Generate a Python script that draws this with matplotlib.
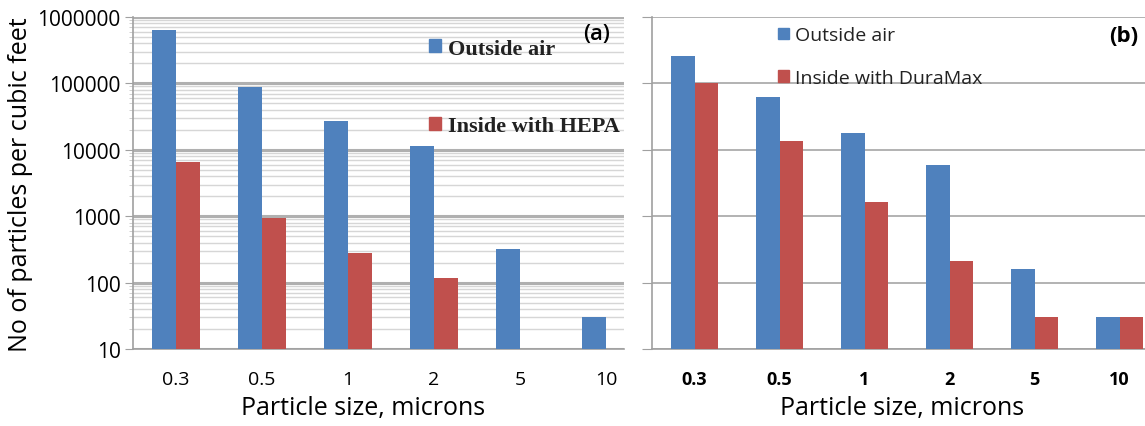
import matplotlib
matplotlib.use('Agg')
import matplotlib.pyplot as plt
import matplotlib.patches as patches
import numpy as np

# data
sizes = ['0.3', '0.5', '1', '2', '5', '10']
outside_a = [630000, 87000, 27000, 11500, 320, 30]
hepa_a = [6600, 950, 280, 118, np.nan, np.nan]
outside_b = [257000, 62000, 18000, 6000, 160, 30]
duramax_b = [100000, 13500, 1660, 215, 30, 30]

BLUE = '#4f81bd'
RED = '#c0504d'
W = 0.28

plt.rcParams['font.family'] = ['Open Sans', 'DejaVu Sans']

fig = plt.figure(figsize=(11.45, 4.27), dpi=100)
ax_a = fig.add_axes([133/1145, 77/427, 491/1145, 332/427])
ax_b = fig.add_axes([652/1145, 77/427, 493/1145, 332/427])

x = np.arange(len(sizes))


def bars(ax, s1, s2):
    s1 = np.asarray(s1, dtype=float)
    s2 = np.asarray(s2, dtype=float)
    m1 = ~np.isnan(s1)
    m2 = ~np.isnan(s2)
    ax.bar(x[m1] - W/2, s1[m1], width=W, bottom=0, color=BLUE, zorder=3)
    ax.bar(x[m2] + W/2, s2[m2], width=W, bottom=0, color=RED, zorder=3)
    ax.set_yscale('log')
    ax.set_ylim(10, 1e6)
    ax.set_xticks(x)
    ax.set_xticklabels(sizes)
    ax.tick_params(axis='x', length=0, pad=15)
    for side in ['top', 'right']:
        ax.spines[side].set_visible(False)
    for side in ['left', 'bottom']:
        ax.spines[side].set_color('#a0a0a0')
        ax.spines[side].set_linewidth(1.2)
    ax.set_axisbelow(True)


# --- panel (a)
bars(ax_a, outside_a, hepa_a)
ax_a.set_xlim(-0.5, -0.5 + 491/86)
ax_a.set_yticks([10, 100, 1000, 10000, 100000, 1000000])
ax_a.set_yticklabels(['10', '100', '1000', '10000', '100000', '1000000'])
ax_a.tick_params(axis='y', which='major', length=6, color='#a0a0a0', labelsize=15, pad=3)
ax_a.tick_params(axis='y', which='minor', length=3, color='#c8c8c8')
ax_a.tick_params(axis='x', labelsize=14)
ax_a.grid(axis='y', which='major', color='#b0b0b0', linewidth=2.2)
ax_a.grid(axis='y', which='minor', color='#d6d6d6', linewidth=1.0)

ax_a.set_ylabel('No of particles per cubic feet', fontsize=18)
ax_a.yaxis.set_label_coords(-0.203, 0.497)
ax_a.set_xlabel('Particle size, microns', fontsize=18)
ax_a.xaxis.set_label_coords(0.468, -0.14)

handles = [patches.Patch(color=BLUE), patches.Patch(color=RED)]
leg = ax_a.legend(handles, ['Outside air', 'Inside with HEPA'],
                  loc='upper left', bbox_to_anchor=(0.603, 0.935), frameon=False,
                  borderaxespad=0, borderpad=0, handlelength=0.55, handleheight=0.55,
                  handletextpad=0.3, labelspacing=2.6,
                  prop={'family': 'Liberation Serif', 'weight': 'bold', 'size': 16})
for t in leg.get_texts():
    t.set_color('#222222')
ax_a.text(0.945, 0.949, '(a)', transform=ax_a.transAxes, fontsize=16,
          fontweight='semibold', ha='center', va='center')

# --- panel (b)
bars(ax_b, outside_b, duramax_b)
ax_b.set_xlim(-0.5, -0.5 + 493/85)
ax_b.set_yticks([10, 100, 1000, 10000, 100000, 1000000])
ax_b.set_yticklabels([])
ax_b.yaxis.set_minor_locator(matplotlib.ticker.NullLocator())
ax_b.tick_params(axis='y', which='major', length=7, color='#a0a0a0')
ax_b.tick_params(axis='x', labelsize=13)
for t in ax_b.get_xticklabels():
    t.set_fontweight('bold')
ax_b.grid(axis='y', which='major', color='#a6a6a6', linewidth=1.2)

ax_b.set_xlabel('Particle size, microns', fontsize=18)
ax_b.xaxis.set_label_coords(0.507, -0.14)

leg = ax_b.legend(handles, ['Outside air', 'Inside with DuraMax'],
                  loc='upper left', bbox_to_anchor=(0.256, 0.972), frameon=False,
                  borderaxespad=0, borderpad=0, handlelength=0.55, handleheight=0.55,
                  handletextpad=0.3, labelspacing=1.25,
                  prop={'size': 14})
for t in leg.get_texts():
    t.set_color('#222222')
ax_b.text(0.957, 0.943, '(b)', transform=ax_b.transAxes, fontsize=16,
          fontweight='bold', ha='center', va='center')

fig.savefig('out.png', dpi=100)
